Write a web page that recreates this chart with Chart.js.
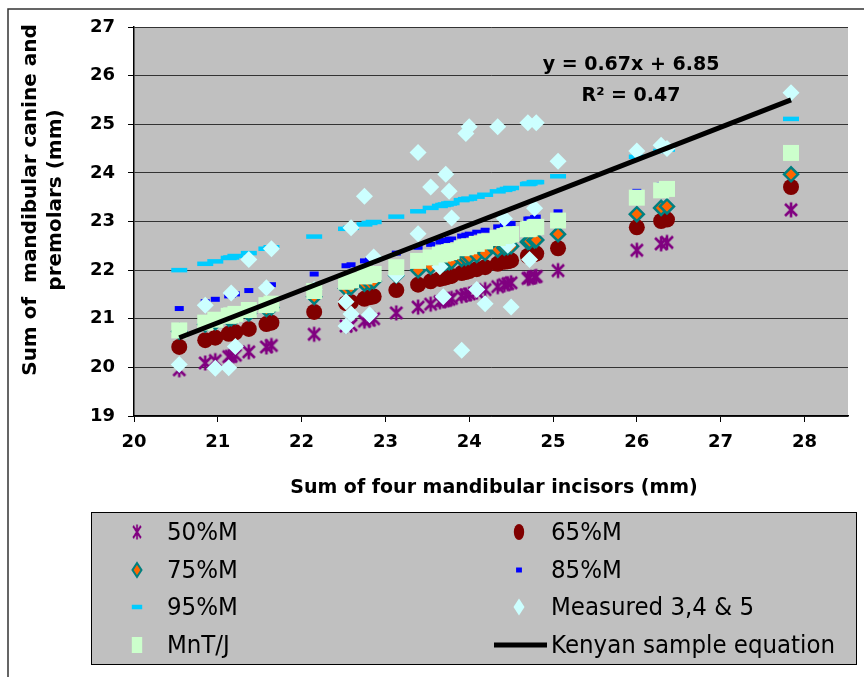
<!DOCTYPE html>
<html><head><meta charset="utf-8">
<script src="https://cdn.jsdelivr.net/npm/chart.js@4.4.0/dist/chart.umd.min.js"></script>
<style>html,body{margin:0;padding:0;background:#fff;}#wrap{width:864px;height:677px;}</style>
</head><body><div id="wrap"><canvas id="c" width="864" height="677"></canvas></div>
<script>
// ---- data ----
const predX = [20.54,20.85,20.97,21.13,21.16,21.21,21.37,21.58,21.64,22.15,22.53,22.59,22.75,22.81,22.86,23.13,23.39,23.54,23.65,23.69,23.72,23.76,23.79,23.91,23.96,24.00,24.09,24.19,24.34,24.42,24.46,24.50,24.70,24.72,24.78,24.80,25.06,26.00,26.29,26.36,27.84];
const pct50 = [19.95,20.09,20.14,20.22,20.23,20.25,20.32,20.42,20.45,20.68,20.85,20.87,20.95,20.97,21.00,21.12,21.24,21.30,21.35,21.37,21.38,21.40,21.42,21.47,21.49,21.51,21.55,21.60,21.66,21.70,21.72,21.74,21.83,21.84,21.86,21.87,21.99,22.41,22.54,22.57,23.24];
const pct65 = [20.42,20.56,20.61,20.69,20.70,20.72,20.79,20.89,20.92,21.14,21.32,21.34,21.41,21.44,21.46,21.59,21.70,21.77,21.82,21.84,21.85,21.87,21.88,21.94,21.96,21.98,22.02,22.06,22.13,22.17,22.18,22.20,22.29,22.30,22.33,22.34,22.45,22.88,23.01,23.04,23.71];
const pct75 = [20.74,20.88,20.93,21.00,21.01,21.04,21.11,21.20,21.23,21.45,21.62,21.65,21.72,21.74,21.77,21.89,22.00,22.07,22.12,22.13,22.15,22.16,22.18,22.23,22.25,22.27,22.31,22.35,22.42,22.46,22.47,22.49,22.58,22.59,22.61,22.62,22.74,23.15,23.28,23.31,23.97];
const pct85 = [21.21,21.35,21.40,21.47,21.48,21.51,21.58,21.67,21.70,21.92,22.09,22.11,22.19,22.21,22.23,22.35,22.47,22.53,22.58,22.60,22.61,22.63,22.64,22.70,22.72,22.74,22.78,22.82,22.89,22.92,22.94,22.96,23.05,23.05,23.08,23.09,23.20,23.62,23.75,23.78,24.43];
const pct95 = [22.00,22.13,22.18,22.25,22.26,22.29,22.35,22.44,22.47,22.69,22.85,22.87,22.94,22.97,22.99,23.10,23.21,23.28,23.32,23.34,23.35,23.37,23.38,23.44,23.46,23.47,23.51,23.55,23.62,23.65,23.67,23.69,23.77,23.78,23.81,23.81,23.93,24.33,24.45,24.48,25.11];
const mntj  = [20.76,20.92,20.98,21.06,21.07,21.10,21.18,21.28,21.31,21.57,21.76,21.79,21.87,21.90,21.92,22.06,22.19,22.26,22.32,22.34,22.35,22.37,22.39,22.45,22.47,22.49,22.54,22.59,22.66,22.70,22.72,22.74,22.84,22.85,22.88,22.89,23.02,23.49,23.64,23.67,24.41];
const measX = [20.54,20.85,20.97,21.13,21.16,21.21,21.37,21.58,21.64,22.15,22.53,22.53,22.59,22.59,22.75,22.81,22.86,23.13,23.39,23.39,23.54,23.65,23.69,23.72,23.76,23.79,23.91,23.96,24.00,24.09,24.19,24.34,24.42,24.46,24.50,24.70,24.72,24.78,24.80,25.06,26.00,26.29,26.36,27.84];
const measY = [20.06,21.28,19.98,19.99,21.53,20.43,22.22,21.64,22.44,21.60,21.35,20.85,22.87,21.10,23.52,21.08,22.27,21.90,24.42,22.75,23.71,22.07,21.45,23.97,23.62,23.07,20.35,24.81,24.95,21.60,21.31,24.95,23.06,22.51,21.24,25.03,22.22,23.27,25.03,24.24,24.45,24.57,24.50,25.65];
const eqX = [20.54, 27.84];
const eqY = [20.61, 25.50];
const seriesNames = ['50%M','65%M','75%M','85%M','95%M','Measured 3,4 & 5','MnT/J','Kenyan sample equation'];
const xTitle = 'Sum of four mandibular incisors (mm)';
const yTitle = ['Sum of  mandibular canine and', 'premolars (mm)'];
const eqLabel = ['y = 0.67x + 6.85', 'R\u00B2 = 0.47'];

// ---- star marker (Excel style) ----
function makeStar(size, color, lw) {
  const c = document.createElement('canvas');
  c.width = size; c.height = size;
  const g = c.getContext('2d');
  g.strokeStyle = color; g.lineWidth = lw; g.lineCap = 'butt';
  const m = size / 2, a = size / 2 - 1.5, d = a * 0.8;
  g.beginPath();
  g.moveTo(m, m - a); g.lineTo(m, m + a);
  g.moveTo(m - d, m - d); g.lineTo(m + d, m + d);
  g.moveTo(m + d, m - d); g.lineTo(m - d, m + d);
  g.stroke();
  return c;
}
const starImg = makeStar(18, '#800080', 2.6);

const pts = (xs, ys) => xs.map((x, i) => ({x: x, y: ys[i]}));

const styles = [
  {pointStyle: starImg, radius: 9, backgroundColor: '#800080', borderColor: '#800080', borderWidth: 0},
  {pointStyle: 'circle', radius: 8, backgroundColor: '#800000', borderColor: '#800000', borderWidth: 0},
  {pointStyle: 'rectRot', radius: 7, backgroundColor: '#FF6600', borderColor: '#008080', borderWidth: 2.5},
  {pointStyle: 'line', radius: 4.5, backgroundColor: '#0000FF', borderColor: '#0000FF', borderWidth: 5},
  {pointStyle: 'line', radius: 8, backgroundColor: '#00CCFF', borderColor: '#00CCFF', borderWidth: 4.5},
  {pointStyle: 'rectRot', radius: 8.5, backgroundColor: '#CCFFFF', borderColor: '#CCFFFF', borderWidth: 0},
  {pointStyle: 'rect', radius: 11.3, backgroundColor: '#CCFFCC', borderColor: '#CCFFCC', borderWidth: 0}
];
const seriesData = [
  pts(predX, pct50), pts(predX, pct65), pts(predX, pct75), pts(predX, pct85),
  pts(predX, pct95), pts(measX, measY), pts(predX, mntj)
];

const datasets = seriesData.map((d, i) => ({
  label: seriesNames[i],
  data: d,
  showLine: false,
  pointStyle: styles[i].pointStyle,
  pointRadius: styles[i].radius,
  pointBackgroundColor: styles[i].backgroundColor,
  pointBorderColor: styles[i].borderColor,
  pointBorderWidth: styles[i].borderWidth,
  order: 8 - i
}));
datasets.push({
  label: seriesNames[7],
  data: pts(eqX, eqY),
  showLine: true,
  borderColor: '#000000',
  borderWidth: 5,
  pointRadius: 0,
  order: 0
});

const FONT = "'DejaVu Sans', Verdana, sans-serif";

const decor = {
  id: 'decor',
  beforeDraw(chart) {
    const {ctx, chartArea: a} = chart;
    ctx.save();
    ctx.fillStyle = '#C0C0C0';
    ctx.fillRect(a.left, a.top, a.right - a.left, a.bottom - a.top);
    ctx.restore();
  },
  afterDraw(chart) {
    const ctx = chart.ctx;
    ctx.save();
    // outer chart border
    ctx.strokeStyle = '#333333'; ctx.lineWidth = 1.5;
    ctx.beginPath();
    ctx.moveTo(870, 9); ctx.lineTo(8, 9); ctx.lineTo(8, 680);
    ctx.stroke();

    ctx.fillStyle = '#000';
    // x title
    ctx.font = 'bold 19px ' + FONT;
    ctx.textAlign = 'center'; ctx.textBaseline = 'middle';
    ctx.fillText(xTitle, 494, 488);
    // equation label
    ctx.fillText(eqLabel[0], 631, 65);
    ctx.fillText(eqLabel[1], 631, 96);
    // y title
    ctx.font = 'bold 20px ' + FONT;
    ctx.save();
    ctx.translate(31, 200); ctx.rotate(-Math.PI / 2);
    ctx.fillText(yTitle[0], 0, 0);
    ctx.restore();
    ctx.save();
    ctx.translate(56, 200); ctx.rotate(-Math.PI / 2);
    ctx.fillText(yTitle[1], 0, 0);
    ctx.restore();

    // legend
    ctx.fillStyle = '#C0C0C0';
    ctx.fillRect(91, 512, 765, 152);
    ctx.strokeStyle = '#000'; ctx.lineWidth = 1;
    ctx.strokeRect(91.5, 512.5, 765, 152);
    const rows = [532, 570, 607, 645];
    const cols = [{m: 137, t: 167}, {m: 519, t: 551}];
    const tScale = 0.9;
    ctx.font = '25.5px ' + FONT;
    ctx.textAlign = 'left'; ctx.textBaseline = 'middle';
    for (let i = 0; i < 8; i++) {
      const r = rows[Math.floor(i / 2)], c = cols[i % 2];
      if (i < 7) {
        const s = styles[i];
        ctx.save();
        ctx.translate(c.m, r); ctx.scale(0.65, 1);
        ctx.fillStyle = s.backgroundColor; ctx.strokeStyle = s.borderColor;
        ctx.lineWidth = s.borderWidth;
        Chart.helpers.drawPoint(ctx, {pointStyle: s.pointStyle, radius: s.radius, rotation: 0, borderWidth: s.borderWidth}, 0, 0);
        ctx.restore();
      } else {
        ctx.strokeStyle = '#000'; ctx.lineWidth = 5;
        ctx.beginPath(); ctx.moveTo(494, r); ctx.lineTo(547, r); ctx.stroke();
      }
      ctx.save();
      ctx.translate(c.t, r + 1); ctx.scale(tScale, 1);
      ctx.fillStyle = '#000';
      ctx.fillText(seriesNames[i], 0, 0);
      ctx.restore();
    }
    ctx.restore();
  }
};

new Chart(document.getElementById('c'), {
  type: 'scatter',
  data: {datasets: datasets},
  options: {
    responsive: false,
    animation: false,
    events: [],
    layout: {padding: {left: 0, top: 27, right: 16, bottom: 221}},
    plugins: {legend: {display: false}, tooltip: {enabled: false}},
    scales: {
      x: {
        type: 'linear', min: 20, max: 28.52,
        afterFit(s) { s.height = 40; },
        ticks: {stepSize: 1, includeBounds: false, color: '#000', padding: 10,
                font: {family: FONT, size: 18, weight: 'bold'}},
        grid: {drawOnChartArea: false, drawTicks: true, tickLength: 6, tickColor: '#000'},
        border: {display: true, color: '#000', width: 1.5}
      },
      y: {
        type: 'linear', min: 19, max: 27,
        afterFit(s) { s.width = 134; },
        ticks: {stepSize: 1, color: '#000', padding: 13,
                font: {family: FONT, size: 18, weight: 'bold'}},
        grid: {color: '#333333', lineWidth: 1, drawTicks: true, tickLength: 6, tickColor: '#000'},
        border: {display: true, color: '#000', width: 1.5}
      }
    }
  },
  plugins: [decor]
});
</script>
</body></html>
